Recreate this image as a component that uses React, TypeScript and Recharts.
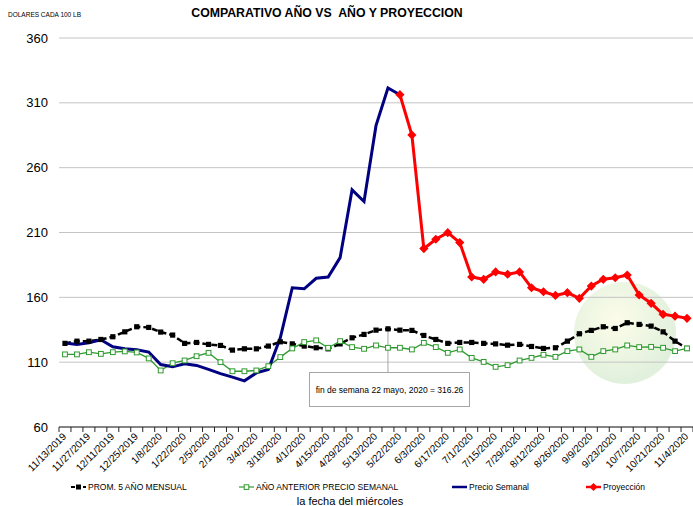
import React from "react";
import { LineChart, Line, XAxis, YAxis, CartesianGrid, ReferenceLine } from "recharts";

// ---------- data ----------
const categories: string[] = [
  "11/13/2019", "11/20/2019", "11/27/2019", "12/4/2019", "12/11/2019", "12/18/2019", "12/25/2019",
  "1/1/2020", "1/8/2020", "1/15/2020", "1/22/2020", "1/29/2020", "2/5/2020", "2/12/2020",
  "2/19/2020", "2/26/2020", "3/4/2020", "3/11/2020", "3/18/2020", "3/25/2020", "4/1/2020",
  "4/8/2020", "4/15/2020", "4/22/2020", "4/29/2020", "5/6/2020", "5/13/2020", "5/20/2020",
  "5/22/2020", "5/27/2020", "6/3/2020", "6/10/2020", "6/17/2020", "6/24/2020", "7/1/2020",
  "7/8/2020", "7/15/2020", "7/22/2020", "7/29/2020", "8/5/2020", "8/12/2020", "8/19/2020",
  "8/26/2020", "9/2/2020", "9/9/2020", "9/16/2020", "9/23/2020", "9/30/2020", "10/7/2020",
  "10/14/2020", "10/21/2020", "10/28/2020", "11/4/2020",
];

const prom5Anos: number[] = [
  124.5, 126.2, 126.2, 127.5, 129.6, 133.4, 137.3, 136.8, 133.2, 130.9, 124.5, 125.2, 123.7, 122.9,
  119.3, 120.3, 120.3, 122.4, 125.7, 124.1, 122.4, 121.1, 120.3, 124.1, 128.8, 131.4, 134.7, 135.7,
  134.7, 134.5, 130.6, 127.5, 124.5, 125.2, 125.2, 124.5, 124.1, 123.1, 123.7, 122.1, 120.6, 121.1,
  126.2, 131.9, 134.5, 137.3, 136.0, 140.4, 139.1, 137.8, 133.4, 126.2, 120.6,
];

const anoAnterior: number[] = [
  116.0, 116.0, 117.7, 116.4, 117.7, 118.3, 117.5, 112.9, 103.6, 109.2, 111.3, 114.6, 117.2, 110.0,
  103.0, 103.0, 103.6, 106.9, 113.9, 120.6, 125.5, 126.8, 121.1, 126.2, 121.6, 120.3, 122.9, 121.1,
  121.1, 119.8, 124.9, 121.6, 117.2, 119.8, 113.3, 110.2, 106.4, 107.7, 111.3, 113.3, 115.7, 114.1,
  118.5, 119.8, 114.1, 118.5, 119.8, 122.9, 121.6, 121.8, 121.1, 118.5, 120.6,
];

const precioSemanal: (number | null)[] = [
  124.7, 123.7, 124.9, 127.3, 121.9, 120.4, 119.6, 117.8, 108.2, 106.4, 108.7, 107.5, 104.4, 101.2,
  98.5, 95.6, 101.7, 104.4, 128.8, 167.4, 166.6, 174.7, 175.7, 190.6, 242.9, 233.9, 292.4, 321.5,
  316.26,
];

const proyeccion: (number | null)[] = [
  null, null, null, null, null, null, null, null, null, null, null, null, null, null,
  null, null, null, null, null, null, null, null, null, null, null, null, null, null,
  316.26, 285.2, 197.6, 204.8, 209.9, 202.2, 175.7, 173.9, 179.6, 177.8, 179.6, 167.4, 164.3, 161.5,
  163.6, 159.2, 168.7, 173.9, 175.1, 177.2, 161.8, 155.4, 146.9, 145.5, 143.8,
];

const yTicks: number[] = [60, 110, 160, 210, 260, 310, 360];

const calloutDate = "5/20/2020";
const calloutText = "fin de semana 22 mayo, 2020 = 316.26";

// ---------- styling / layout ----------
const W = 693;
const H = 506;
const PLOT_LEFT = 59;
const PLOT_TOP = 38;
const XAXIS_H = 79;
const FONT = "'Liberation Sans Narrow', 'Arial Narrow', 'Liberation Sans', Arial, sans-serif";
const SLOT_HALF = (W - PLOT_LEFT) / categories.length / 2;

const COLORS = {
  prom: "#000000",
  anterior: "#2f9a2f",
  semanal: "#000080",
  proy: "#ff0000",
};

const rows = categories.map((d, i) => ({
  date: d,
  prom: prom5Anos[i],
  anterior: anoAnterior[i],
  semanal: i < precioSemanal.length ? precioSemanal[i] : null,
  proy: proyeccion[i],
}));

const seriesDefs = [
  { key: "prom", name: "PROM. 5 AÑO MENSUAL", color: COLORS.prom, kind: "dash" },
  { key: "anterior", name: "AÑO ANTERIOR PRECIO SEMANAL", color: COLORS.anterior, kind: "hollow" },
  { key: "semanal", name: "Precio Semanal", color: COLORS.semanal, kind: "plain" },
  { key: "proy", name: "Proyección", color: COLORS.proy, kind: "diamond" },
];
const legendX = [71, 239, 452, 586];

function DateTick(props: any) {
  const { x, y, payload } = props;
  const i = payload.index;
  const ax = x + 2;
  const ay = y + 10;
  return (
    <g>
      <line x1={x - SLOT_HALF} x2={x - SLOT_HALF} y1={y} y2={y + 5} stroke="#262626" />
      {i === categories.length - 1 && (
        <line x1={x + SLOT_HALF} x2={x + SLOT_HALF} y1={y} y2={y + 5} stroke="#262626" />
      )}
      {i % 2 === 0 && (
        <text
          x={ax}
          y={ay}
          textAnchor="end"
          fontSize={10}
          fontFamily={FONT}
          fill="#000"
          transform={`rotate(-45 ${ax} ${ay})`}
        >
          {payload.value}
        </text>
      )}
    </g>
  );
}

const squareDot = (props: any) => {
  const { cx, cy, index } = props;
  if (cx == null || cy == null) return <g key={`pd${index}`} />;
  return <rect key={`pd${index}`} x={cx - 2.6} y={cy - 2.6} width={5.2} height={5.2} fill="#000" />;
};
const hollowDot = (props: any) => {
  const { cx, cy, index } = props;
  if (cx == null || cy == null) return <g key={`ad${index}`} />;
  return (
    <rect key={`ad${index}`} x={cx - 2.4} y={cy - 2.4} width={4.8} height={4.8} fill="#ffffff" stroke={COLORS.anterior} strokeWidth={1} />
  );
};
const diamondDot = (props: any) => {
  const { cx, cy, index } = props;
  if (cx == null || cy == null) return <g key={`rd${index}`} />;
  const s = 4.6;
  return (
    <polygon
      key={`rd${index}`}
      points={`${cx},${cy - s} ${cx + s},${cy} ${cx},${cy + s} ${cx - s},${cy}`}
      fill={COLORS.proy}
    />
  );
};

function LegendSymbol({ kind, color }: { kind: string; color: string }) {
  return (
    <svg width={15} height={8} style={{ display: "block" }}>
      {kind === "dash" && (
        <>
          <line x1={0} x2={15} y1={4} y2={4} stroke={color} strokeWidth={2} strokeDasharray="4 2" />
          <rect x={5} y={1.5} width={5} height={5} fill={color} />
        </>
      )}
      {kind === "hollow" && (
        <>
          <line x1={0} x2={15} y1={4} y2={4} stroke={color} strokeWidth={1.2} />
          <rect x={5.2} y={1.8} width={4.6} height={4.6} fill="#fff" stroke={color} strokeWidth={1} />
        </>
      )}
      {kind === "plain" && <line x1={0} x2={15} y1={4} y2={4} stroke={color} strokeWidth={2.5} />}
      {kind === "diamond" && (
        <>
          <line x1={0} x2={15} y1={4} y2={4} stroke={color} strokeWidth={2.5} />
          <polygon points="7.5,0 11.5,4 7.5,8 3.5,4" fill={color} />
        </>
      )}
    </svg>
  );
}

export default function App() {
  return (
    <div
      style={{
        position: "absolute",
        left: 0,
        top: 0,
        width: W,
        height: H,
        overflow: "hidden",
        background: "#ffffff",
        fontFamily: FONT,
      }}
    >
      {/* faint watermark globe */}
      <div
        style={{
          position: "absolute",
          left: 574,
          top: 282,
          width: 102,
          height: 102,
          borderRadius: "50%",
          opacity: 0.55,
          background:
            "radial-gradient(circle at 42% 38%, rgba(250,250,215,1) 0%, rgba(225,240,205,1) 35%, rgba(200,228,192,1) 70%, rgba(210,234,204,0.8) 100%)",
        }}
      />

      <div style={{ position: "absolute", left: 0, top: 0 }}>
        <LineChart width={W} height={H} data={rows} margin={{ top: PLOT_TOP, right: 0, bottom: 0, left: 0 }}>
          <CartesianGrid vertical={false} stroke="#c4c4c4" strokeWidth={1} />
          <XAxis
            dataKey="date"
            height={XAXIS_H}
            interval={0}
            tick={<DateTick />}
            tickLine={false}
            tickSize={0}
            tickMargin={0}
            axisLine={{ stroke: "#262626", strokeWidth: 1 }}
            padding={{ left: SLOT_HALF, right: SLOT_HALF }}
          />
          <YAxis
            width={PLOT_LEFT}
            domain={[60, 360]}
            ticks={yTicks}
            interval={0}
            axisLine={false}
            tickLine={false}
            tickSize={0}
            tickMargin={11}
            tick={{ fontSize: 13, fill: "#000", fontFamily: FONT }}
          />
          <ReferenceLine
            segment={[
              { x: calloutDate, y: 101.5 },
              { x: calloutDate, y: 135.7 },
            ]}
            stroke="#a6a6a6"
            strokeWidth={1}
          />
          <Line
            dataKey="prom"
            name={seriesDefs[0].name}
            stroke={COLORS.prom}
            strokeWidth={2.5}
            strokeDasharray="6 3"
            dot={squareDot}
            activeDot={false}
            isAnimationActive={false}
          />
          <Line
            dataKey="anterior"
            name={seriesDefs[1].name}
            stroke={COLORS.anterior}
            strokeWidth={1.3}
            dot={hollowDot}
            activeDot={false}
            isAnimationActive={false}
          />
          <Line
            dataKey="semanal"
            name={seriesDefs[2].name}
            stroke={COLORS.semanal}
            strokeWidth={3}
            dot={false}
            activeDot={false}
            connectNulls={false}
            isAnimationActive={false}
          />
          <Line
            dataKey="proy"
            name={seriesDefs[3].name}
            stroke={COLORS.proy}
            strokeWidth={3}
            dot={diamondDot}
            activeDot={false}
            connectNulls={false}
            isAnimationActive={false}
          />
        </LineChart>
      </div>

      {/* titles */}
      <div style={{ position: "absolute", left: 8, top: 11, fontSize: 6.5, color: "#000", whiteSpace: "nowrap" }}>
        DOLARES CADA 100 LB
      </div>
      <div
        style={{
          position: "absolute",
          left: 0,
          width: 654,
          top: 6,
          textAlign: "center",
          fontSize: 12.3,
          fontWeight: "bold",
          color: "#000",
          whiteSpace: "pre",
        }}
      >
        {"COMPARATIVO AÑO VS  AÑO Y PROYECCION"}
      </div>

      {/* callout box */}
      <div
        style={{
          position: "absolute",
          left: 309,
          top: 372,
          width: 159,
          height: 33,
          border: "1px solid #a6a6a6",
          background: "#ffffff",
          display: "flex",
          alignItems: "center",
          justifyContent: "center",
          fontSize: 8.5,
          color: "#000",
          whiteSpace: "nowrap",
        }}
      >
        {calloutText}
      </div>

      {/* legend */}
      {seriesDefs.map((s, i) => (
        <div
          key={s.key}
          style={{
            position: "absolute",
            left: legendX[i],
            top: 481,
            height: 12,
            display: "flex",
            alignItems: "center",
            gap: 2,
            fontSize: 8.5,
            color: "#000",
            whiteSpace: "nowrap",
          }}
        >
          <LegendSymbol kind={s.kind} color={s.color} />
          <span>{s.name}</span>
        </div>
      ))}

      {/* x axis title */}
      <div
        style={{
          position: "absolute",
          left: 250,
          width: 200,
          top: 495,
          textAlign: "center",
          fontSize: 11,
          color: "#000",
          whiteSpace: "nowrap",
        }}
      >
        la fecha del miércoles
      </div>
    </div>
  );
}
